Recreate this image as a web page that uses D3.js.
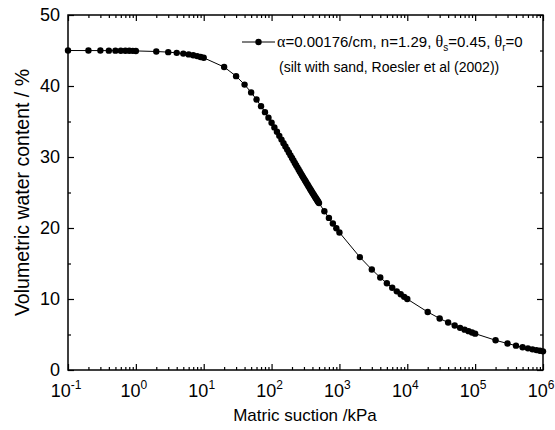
<!DOCTYPE html>
<html><head><meta charset="utf-8">
<script src="https://cdn.jsdelivr.net/npm/d3@7"></script>
<style>
body{margin:0;background:#fff}
svg{display:block}
text{font-family:"Liberation Sans",Arial,sans-serif;fill:#000}
</style>
</head><body>
<svg id="c" width="555" height="430"></svg>
<script>
// matric suction (kPa)
const suction = [
  0.1,0.2,0.3,0.4,0.5,0.6,0.7,0.8,0.9,1,
  2,3,4,5,6,7,8,9,10,
  20,30,40,50,60,70,80,90,100,
  110,120,130,140,150,160,170,180,190,200,
  210,220,230,240,250,260,270,280,290,300,
  310,320,330,340,350,360,370,380,390,400,
  410,420,430,440,450,460,470,480,490,500,
  600,700,800,900,1000,
  2000,3000,4000,5000,6000,7000,8000,9000,10000,
  20000,30000,40000,50000,60000,70000,80000,90000,100000,
  200000,300000,400000,500000,600000,700000,800000,900000,1000000
];
// volumetric water content (%)
const theta = [
  45.00,44.99,44.99,44.98,44.98,44.97,44.96,44.96,44.95,44.94,
  44.86,44.77,44.67,44.56,44.45,44.33,44.21,44.09,43.97,
  42.67,41.39,40.20,39.10,38.09,37.16,36.32,35.54,34.83,
  34.17,33.55,32.98,32.45,31.95,31.48,31.04,30.63,30.23,29.86,
  29.51,29.17,28.85,28.54,28.25,27.97,27.70,27.44,27.20,26.96,
  26.73,26.51,26.29,26.09,25.88,25.69,25.51,25.32,25.15,24.98,
  24.81,24.65,24.49,24.34,24.20,24.05,23.91,23.78,23.64,23.51,
  22.36,21.42,20.63,19.96,19.37,
  15.90,14.15,13.02,12.21,11.58,11.08,10.66,10.30,9.99,
  8.17,7.26,6.68,6.26,5.94,5.68,5.47,5.28,5.12,
  4.19,3.73,3.43,3.21,3.05,2.91,2.80,2.71,2.63
];
const xTickExponents = [-1,0,1,2,3,4,5,6];
const yTickValues = [0,10,20,30,40,50];
const yMinorValues = [5,15,25,35,45];
const xTitle = "Matric suction /kPa";
const yTitle = "Volumetric water content / %";

const svg = d3.select("#c");
const L = 68, R = 543, T = 15, B = 370;
const x = d3.scaleLog().domain([1e-1, 1e6]).range([L, R]);
const y = d3.scaleLinear().domain([0, 50]).range([B, T]);

const majorX = xTickExponents.map(e => Math.pow(10, e));
const minorX = [];
xTickExponents.slice(0, -1).forEach(e => { for (let k = 2; k <= 9; k++) minorX.push(k * Math.pow(10, e)); });

function styleAxis(g) {
  g.select(".domain").remove();
  g.selectAll("line").attr("stroke", "#000").attr("stroke-width", 1.2);
}
// bottom
svg.append("g").attr("transform", `translate(0,${B})`)
  .call(d3.axisBottom(x).tickValues(majorX).tickSize(-6).tickFormat("")).call(styleAxis);
svg.append("g").attr("transform", `translate(0,${B})`)
  .call(d3.axisBottom(x).tickValues(minorX).tickSize(-3).tickFormat("")).call(styleAxis);
// top
svg.append("g").attr("transform", `translate(0,${T})`)
  .call(d3.axisTop(x).tickValues(majorX).tickSize(-6).tickFormat("")).call(styleAxis);
svg.append("g").attr("transform", `translate(0,${T})`)
  .call(d3.axisTop(x).tickValues(minorX).tickSize(-3).tickFormat("")).call(styleAxis);
// left
svg.append("g").attr("transform", `translate(${L},0)`)
  .call(d3.axisLeft(y).tickValues(yTickValues).tickSize(-6).tickFormat("")).call(styleAxis);
svg.append("g").attr("transform", `translate(${L},0)`)
  .call(d3.axisLeft(y).tickValues(yMinorValues).tickSize(-3).tickFormat("")).call(styleAxis);
// right
svg.append("g").attr("transform", `translate(${R},0)`)
  .call(d3.axisRight(y).tickValues(yTickValues).tickSize(-6).tickFormat("")).call(styleAxis);
svg.append("g").attr("transform", `translate(${R},0)`)
  .call(d3.axisRight(y).tickValues(yMinorValues).tickSize(-3).tickFormat("")).call(styleAxis);

// frame
svg.append("rect").attr("x", L).attr("y", T).attr("width", R - L).attr("height", B - T)
  .attr("fill", "none").attr("stroke", "#000").attr("stroke-width", 1.5);

// x tick labels
xTickExponents.forEach(e => {
  const t = svg.append("text").attr("x", x(Math.pow(10, e)) - 2).attr("y", 397)
    .attr("text-anchor", "middle").attr("font-size", 18);
  t.append("tspan").text("10");
  t.append("tspan").attr("font-size", 12).attr("dy", -8).text(String(e));
});
// y tick labels
yTickValues.forEach(v => {
  svg.append("text").attr("x", 60).attr("y", y(v)).attr("dy", "0.35em")
    .attr("text-anchor", "end").attr("font-size", 18).text(v);
});
// titles
svg.append("text").attr("x", 305).attr("y", 421).attr("text-anchor", "middle")
  .attr("font-size", 17).text(xTitle);
svg.append("text").attr("transform", `translate(29,${(T + B) / 2}) rotate(-90)`)
  .attr("text-anchor", "middle").attr("font-size", 19.5).text(yTitle);

// data
const pts = suction.map((s, i) => [s, theta[i]]);
svg.append("path").datum(pts)
  .attr("d", d3.line().x(d => x(d[0])).y(d => y(d[1])))
  .attr("fill", "none").attr("stroke", "#000").attr("stroke-width", 1);
svg.append("g").selectAll("circle").data(pts).join("circle")
  .attr("cx", d => x(d[0])).attr("cy", d => y(d[1])).attr("r", 3.2).attr("fill", "#000");

// legend
const ly = 42;
svg.append("line").attr("x1", 242).attr("x2", 275).attr("y1", ly).attr("y2", ly)
  .attr("stroke", "#000").attr("stroke-width", 1);
svg.append("circle").attr("cx", 258.5).attr("cy", ly).attr("r", 3.2).attr("fill", "#000");
const greekFont = "'Liberation Serif','Times New Roman',serif";
const lt = svg.append("text").attr("x", 277).attr("y", ly + 5).attr("font-size", 15);
lt.append("tspan").attr("font-family", greekFont).attr("font-size", 16).text("α");
lt.append("tspan").text("=0.00176/cm, n=1.29, ");
lt.append("tspan").attr("font-family", greekFont).attr("font-size", 16).text("θ");
lt.append("tspan").attr("font-size", 10).attr("dy", 4).text("s");
lt.append("tspan").attr("dy", -4).text("=0.45, ");
lt.append("tspan").attr("font-family", greekFont).attr("font-size", 16).text("θ");
lt.append("tspan").attr("font-size", 10).attr("dy", 4).text("r");
lt.append("tspan").attr("dy", -4).text("=0");
svg.append("text").attr("x", 279).attr("y", 72).attr("font-size", 14)
  .text("(silt with sand, Roesler et al (2002))");
</script>
</body></html>
